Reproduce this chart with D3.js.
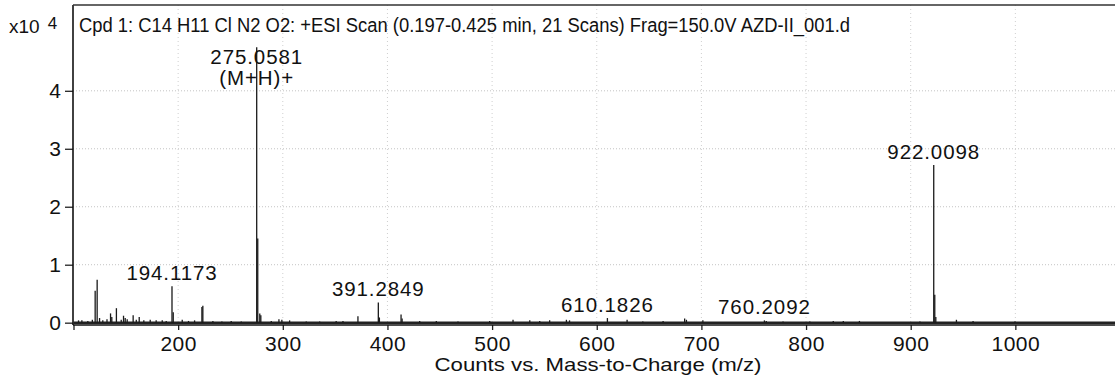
<!DOCTYPE html>
<html>
<head>
<meta charset="utf-8">
<script src="https://d3js.org/d3.v7.min.js"></script>
<style>
  body { margin: 0; background: #fff; }
  text { font-family: "Liberation Sans", Arial, sans-serif; fill: #111; }
</style>
</head>
<body>
<div id="chart"></div>
<script>

// peak list (m/z, counts in x10^4)

var peakMz = [104.8, 108.0, 113.7, 118.0, 120.7, 122.6, 124.9, 128.0, 132.0, 135.4,
  136.6, 141.0, 145.6, 147.8, 149.4, 151.3, 157.0, 160.0, 162.8, 167.2,
  173.3, 179.0, 184.8, 188.6, 194.1173, 195.3, 203.9, 209.9, 215.7, 222.7,
  223.6, 233.2, 241.8, 250.7, 260.3, 275.0581, 276.06, 278.0, 279.0, 289.0,
  296.3, 299.1, 306.5, 322.4, 335.2, 351.0, 357.5, 371.8, 391.2849, 392.3,
  413.0, 414.0, 430.8, 446.7, 467.4, 497.7, 520.0, 536.0, 545.5, 555.0,
  571.0, 574.0, 610.1826, 629.0, 644.0, 663.4, 684.0, 685.7, 701.4, 760.2092,
  762.0, 778.0, 803.6, 826.0, 835.6, 851.0, 908.8, 922.0098, 923.0, 924.0,
  943.7, 959.6, 999.6];

var peakCounts = [0.04, 0.04, 0.03, 0.05, 0.55, 0.74, 0.08, 0.04, 0.06, 0.16,
  0.10, 0.25, 0.05, 0.12, 0.08, 0.06, 0.13, 0.05, 0.10, 0.04,
  0.05, 0.04, 0.04, 0.03, 0.63, 0.18, 0.05, 0.03, 0.04, 0.27,
  0.29, 0.03, 0.02, 0.03, 0.02, 4.75, 1.45, 0.16, 0.13, 0.03,
  0.06, 0.05, 0.04, 0.02, 0.02, 0.03, 0.03, 0.11, 0.35, 0.09,
  0.14, 0.07, 0.03, 0.03, 0.02, 0.03, 0.05, 0.04, 0.03, 0.04,
  0.05, 0.04, 0.08, 0.05, 0.02, 0.03, 0.07, 0.05, 0.04, 0.04,
  0.03, 0.02, 0.02, 0.03, 0.03, 0.03, 0.02, 2.72, 0.48, 0.10,
  0.05, 0.03, 0.02];

// labelled peaks

var labelMz = [194.1173, 275.0581, 391.2849, 610.1826, 760.2092, 922.0098];
var labelLines = [["194.1173"], ["275.0581", "(M+H)+"], ["391.2849"], ["610.1826"], ["760.2092"], ["922.0098"]];

// axis ticks

var xTicks = [100, 200, 300, 400, 500, 600, 700, 800, 900, 1000, 1100];
var yTicks = [0, 1, 2, 3, 4];

var titleText = "Cpd 1: C14 H11 Cl N2 O2: +ESI Scan (0.197-0.425 min, 21 Scans) Frag=150.0V AZD-II_001.d";
var xTitle = "Counts vs. Mass-to-Charge (m/z)";

// set svg height/ width

var svgWidth = 1115;
var svgHeight = 379;

var chartMargin = { top: 5, left: 73, bottom: 325, right: 1120 };

var svg = d3.select("#chart")
  .append("svg")
  .attr("width", svgWidth)
  .attr("height", svgHeight);

var xScale = d3.scaleLinear()
  .domain([100, 1100])
  .range([chartMargin.left + 0.5, chartMargin.right]);

var yScale = d3.scaleLinear()
  .domain([-0.04, 5.48])
  .range([chartMargin.bottom, chartMargin.top]);

// dotted grid

var grid = svg.append("g");

grid.selectAll(".hgrid").data(yTicks.filter(d => d > 0)).enter()
  .append("line")
  .attr("x1", chartMargin.left)
  .attr("x2", svgWidth)
  .attr("y1", d => yScale(d))
  .attr("y2", d => yScale(d))
  .attr("stroke", "#c4c4c4")
  .attr("stroke-width", 1)
  .attr("stroke-dasharray", "1,2");

grid.selectAll(".vgrid").data(xTicks.filter(d => d > 100 && d < 1100)).enter()
  .append("line")
  .attr("x1", d => xScale(d))
  .attr("x2", d => xScale(d))
  .attr("y1", chartMargin.top)
  .attr("y2", chartMargin.bottom)
  .attr("stroke", "#cfcfcf")
  .attr("stroke-width", 1)
  .attr("stroke-dasharray", "1,3");

// spectrum baseline and sticks

svg.append("line")
  .attr("x1", xScale(100))
  .attr("x2", svgWidth)
  .attr("y1", yScale(0))
  .attr("y2", yScale(0))
  .attr("stroke", "#222")
  .attr("stroke-width", 2.4);

svg.append("g").selectAll("line")
  .data(peakMz.map((m, i) => ({ mz: m, c: peakCounts[i] })))
  .enter()
  .append("line")
  .attr("x1", d => xScale(d.mz))
  .attr("x2", d => xScale(d.mz))
  .attr("y1", yScale(0))
  .attr("y2", d => yScale(d.c))
  .attr("stroke", "#1a1a1a")
  .attr("stroke-width", 1.3);

// axes

var xAxis = d3.axisBottom(xScale)
  .tickValues(xTicks)
  .tickSize(5)
  .tickFormat(d => (d === 100 || d === 1100) ? "" : d);

var gx = svg.append("g")
  .attr("transform", `translate(0, ${chartMargin.bottom})`)
  .call(xAxis);
gx.select(".domain").remove();
gx.selectAll(".tick line").attr("stroke", "#222").attr("stroke-width", 1.3);
gx.selectAll(".tick text")
  .attr("font-size", 21)
  .attr("font-family", "Liberation Sans, Arial, sans-serif")
  .attr("fill", "#111")
  .attr("letter-spacing", 0.5)
  .attr("dy", null)
  .attr("y", 25.5);

var yAxis = d3.axisLeft(yScale)
  .tickValues(yTicks)
  .tickSize(8)
  .tickPadding(4)
  .tickFormat(d3.format("d"));

var gy = svg.append("g")
  .attr("transform", `translate(${chartMargin.left}, 0)`)
  .call(yAxis);
gy.select(".domain").remove();
gy.selectAll(".tick line").attr("stroke", "#222").attr("stroke-width", 1.3);
gy.selectAll(".tick text")
  .attr("font-size", 21)
  .attr("font-family", "Liberation Sans, Arial, sans-serif")
  .attr("fill", "#111");

// frame lines

svg.append("line")
  .attr("x1", chartMargin.left).attr("x2", chartMargin.left)
  .attr("y1", chartMargin.top).attr("y2", chartMargin.bottom)
  .attr("stroke", "#111").attr("stroke-width", 1.6);

svg.append("line")
  .attr("x1", chartMargin.left).attr("x2", svgWidth)
  .attr("y1", chartMargin.top).attr("y2", chartMargin.top)
  .attr("stroke", "#333").attr("stroke-width", 1.6);

svg.append("line")
  .attr("x1", chartMargin.left).attr("x2", svgWidth)
  .attr("y1", chartMargin.bottom).attr("y2", chartMargin.bottom)
  .attr("stroke", "#111").attr("stroke-width", 1.6);

// peak labels

labelMz.forEach(function(m, i) {
  var idx = peakMz.indexOf(m);
  var lines = labelLines[i];
  var bottom = Math.max(yScale(peakCounts[idx]) - 6, 85);
  lines.forEach(function(t, j) {
    svg.append("text")
      .attr("x", xScale(m))
      .attr("y", bottom - (lines.length - 1 - j) * 21)
      .attr("text-anchor", "middle")
      .attr("font-size", 20.5)
      .attr("letter-spacing", 0.9)
      .text(t);
  });
});

// titles

svg.append("text")
  .attr("x", 79)
  .attr("y", 32)
  .attr("font-size", 20)
  .attr("textLength", 771)
  .attr("lengthAdjust", "spacingAndGlyphs")
  .text(titleText);

var mult = svg.append("text")
  .attr("x", 9)
  .attr("y", 33)
  .attr("font-size", 19);
mult.append("tspan").text("x10");
mult.append("tspan").attr("dx", 8).attr("dy", -4).attr("font-size", 17).text("4");

svg.append("text")
  .attr("x", 598)
  .attr("y", 370.5)
  .attr("text-anchor", "middle")
  .attr("font-size", 19)
  .attr("textLength", 327)
  .attr("lengthAdjust", "spacingAndGlyphs")
  .text(xTitle);

</script>
</body>
</html>
